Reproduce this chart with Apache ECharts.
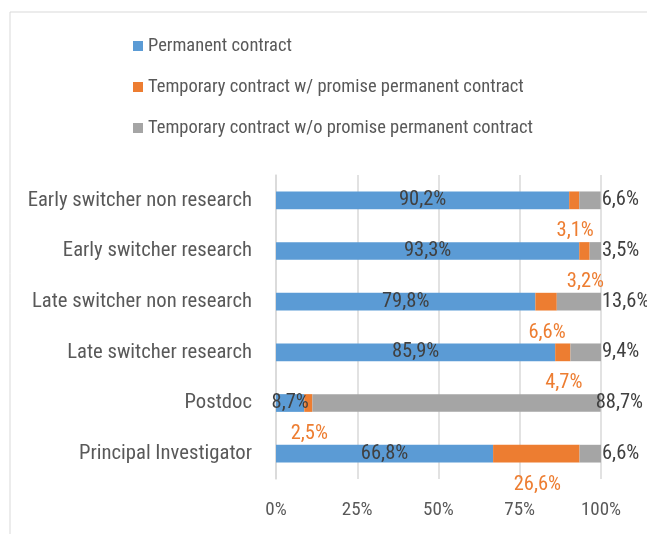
<!DOCTYPE html>
<html>
<head>
<meta charset="utf-8">
<script src="https://cdn.jsdelivr.net/npm/echarts@6/dist/echarts.min.js"></script>
<style>
  html, body { margin: 0; padding: 0; background: #fff; }
  #chart { width: 647px; height: 534px; }
</style>
</head>
<body>
<div id="chart"></div>
<script>
// categories, top to bottom
const categories = [
  'Early switcher non research',
  'Early switcher research',
  'Late switcher non research',
  'Late switcher research',
  'Postdoc',
  'Principal Investigator'
]
const seriesNames = [
  'Permanent contract',
  'Temporary contract w/ promise permanent contract',
  'Temporary contract w/o promise permanent contract'
]
// shares in %
const permanent = [90.2, 93.3, 79.8, 85.9, 8.7, 66.8]
const tempPromise = [3.1, 3.2, 6.6, 4.7, 2.5, 26.6]
const tempNoPromise = [6.6, 3.5, 13.6, 9.4, 88.7, 6.6]
const xTicks = [0, 25, 50, 75, 100]

const FONT = '"Liberation Sans Narrow", "Roboto Condensed", "Open Sans", sans-serif'
const pct = v => String(v).replace('.', ',') + '%'

const chart = echarts.init(document.getElementById('chart'))

const option = {
  animation: false,
  textStyle: { fontFamily: FONT },
  graphic: [{
    type: 'rect',
    shape: { x: 10, y: 12, width: 700, height: 600 },
    style: { fill: 'none', stroke: '#d9d9d9', lineWidth: 1 },
    silent: true
  }],
  legend: {
    orient: 'vertical',
    left: 128,
    top: 31,
    itemWidth: 10,
    itemHeight: 10,
    itemGap: 21,
    icon: 'rect',
    textStyle: { color: '#595959', fontSize: 18.5, lineHeight: 20, fontFamily: FONT },
    data: seriesNames
  },
  grid: { left: 276, right: 46, top: 175, bottom: 55 },
  xAxis: {
    type: 'value',
    min: xTicks[0],
    max: xTicks[xTicks.length - 1],
    interval: 25,
    axisLine: { show: false },
    axisTick: { show: false },
    splitLine: { lineStyle: { color: '#d9d9d9', width: 1.5 } },
    axisLabel: {
      color: '#595959', fontSize: 19, margin: 22, fontFamily: FONT,
      formatter: v => v + '%'
    }
  },
  yAxis: {
    type: 'category',
    inverse: true,
    data: categories,
    axisLine: { show: true, lineStyle: { color: '#d9d9d9', width: 1.5 } },
    axisTick: { show: false },
    axisLabel: { color: '#595959', fontSize: 20.7, margin: 24, fontFamily: FONT }
  },
  series: [
    {
      name: seriesNames[0],
      type: 'bar',
      stack: 'total',
      barWidth: '35%',
      itemStyle: { color: '#5B9BD5' },
      label: {
        show: true, position: 'inside', color: '#404040', fontSize: 20.5, fontFamily: FONT,
        formatter: p => pct(p.value)
      },
      data: permanent
    },
    {
      name: seriesNames[1],
      type: 'bar',
      stack: 'total',
      itemStyle: { color: '#ED7D31' },
      label: {
        show: true, position: 'inside', offset: [1, 31], color: '#ED7D31', fontSize: 20.5, fontFamily: FONT,
        formatter: p => pct(p.value)
      },
      data: tempPromise
    },
    {
      name: seriesNames[2],
      type: 'bar',
      stack: 'total',
      itemStyle: { color: '#A5A5A5' },
      label: {
        show: true, position: 'right', distance: 1, color: '#404040', fontSize: 20.5, fontFamily: FONT,
        formatter: p => pct(p.value)
      },
      // the postdoc label sits slightly into the bar in the original
      data: tempNoPromise.map((v, i) => i === 4 ? { value: v, label: { offset: [-6, 0] } } : v)
    }
  ]
}

chart.setOption(option)
</script>
</body>
</html>
